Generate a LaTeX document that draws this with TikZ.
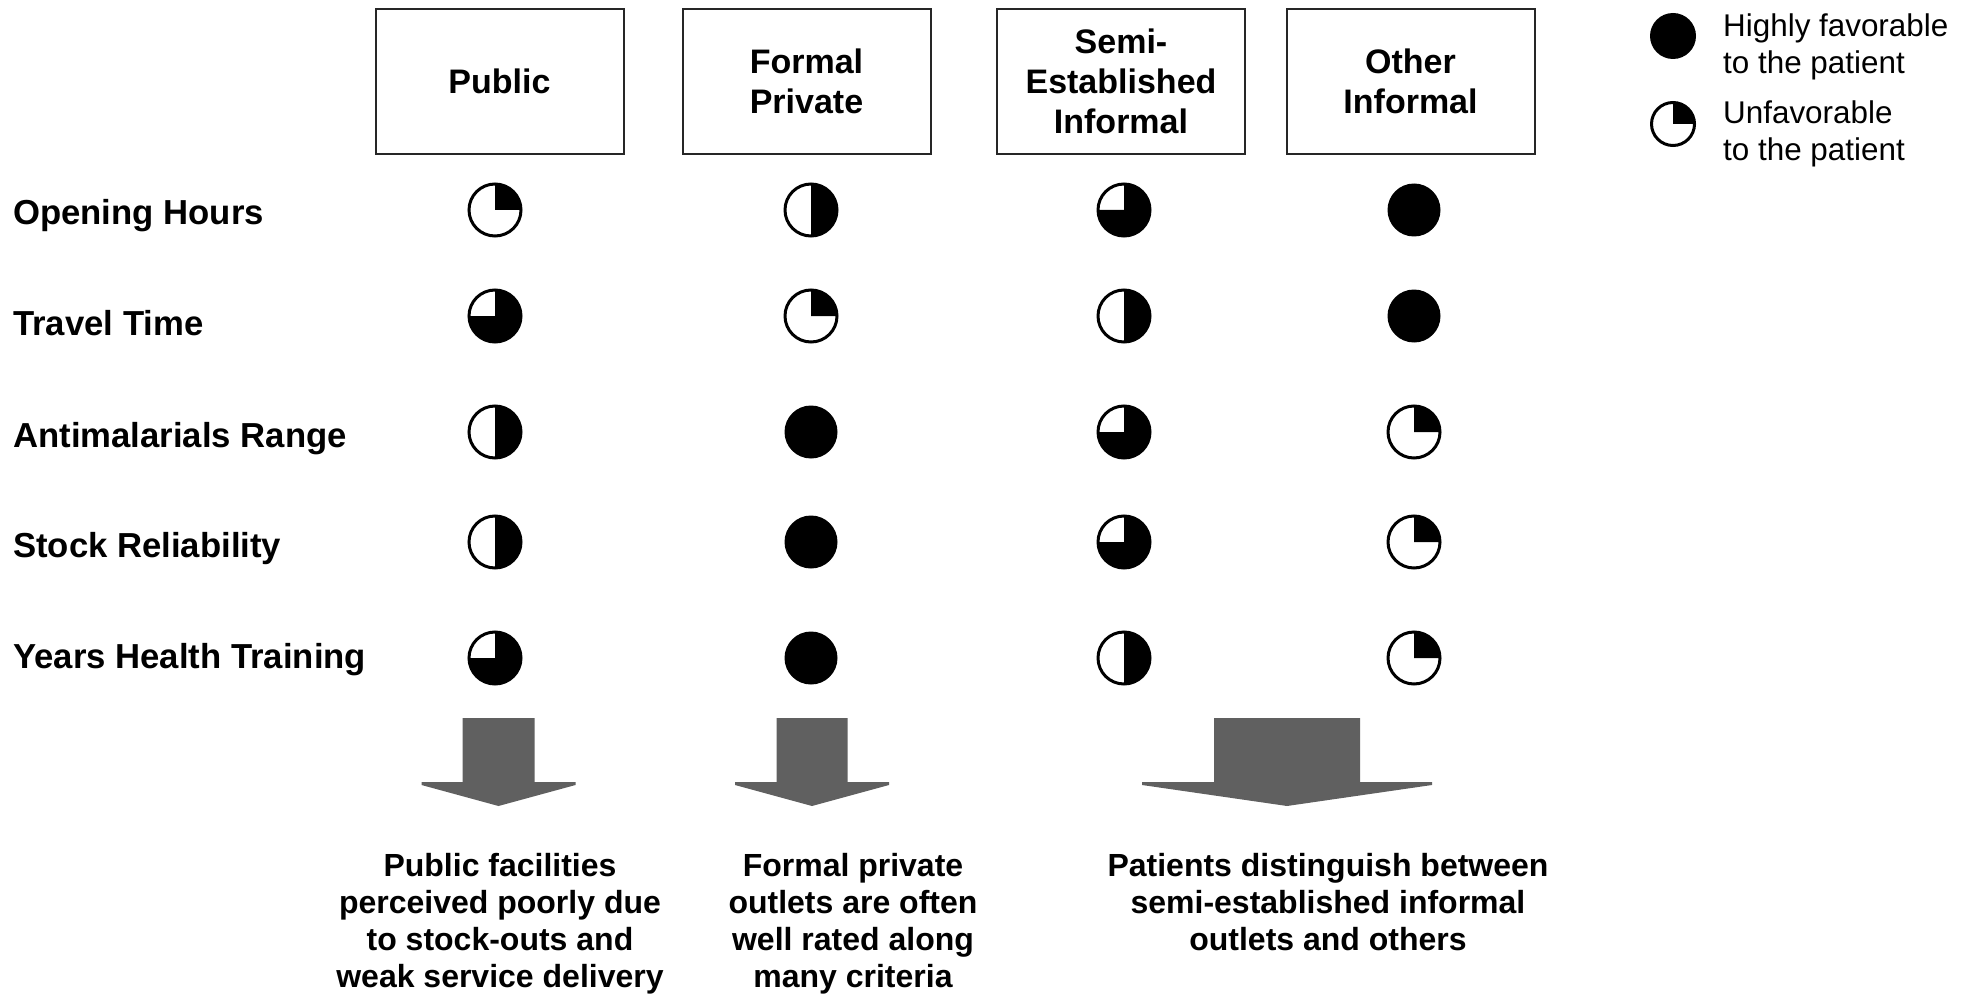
\documentclass[tikz,border=0pt]{standalone}
\usepackage{fontspec}
\setmainfont{Liberation Sans}
\definecolor{arrowgray}{RGB}{96,96,96}
% block arrow pointing down: centre x, shaft half width, wing half width
\newcommand{\downblock}[3]{%
  \fill[arrowgray] (#1-#2,-718) -- (#1+#2,-718) -- (#1+#2,-782) -- (#1+#3,-782)
    -- (#1+#3,-785) -- (#1,-806) -- (#1-#3,-785) -- (#1-#3,-782) -- (#1-#2,-782) -- cycle;}
\begin{document}
\begin{tikzpicture}[x=1pt,y=1pt,
  hdr/.style={draw=black!85, line width=2pt, minimum width=248pt, minimum height=145pt,
    inner sep=0pt, align=center, font=\bfseries\fontsize{34}{40}\selectfont},
  rowlabel/.style={anchor=base west, inner sep=0pt, font=\bfseries\fontsize{34.7}{40}\selectfont},
  ball/.style={circle, draw=black, line width=3pt, fill=white, minimum size=52pt, inner sep=0pt,
    path picture={\fill[black] (path picture bounding box.center) -- ++(0,40pt)
      arc[start angle=90, delta angle=-#1, radius=40pt] -- cycle;}},
  fullball/.style={circle, fill=black, minimum size=53pt, inner sep=0pt},
  legendtext/.style={anchor=north west, inner sep=0pt, align=left, font=\fontsize{31.4}{37}\selectfont},
  outcome/.style={anchor=north, inner sep=0pt, align=center, font=\bfseries\fontsize{32}{37}\selectfont}
]
\useasboundingbox (0,0) rectangle (1965,-995);

% column headers
\node[hdr] (hpub) at (499.5,-81.5) {Public};
\node[hdr] (hfor) at (806.5,-81.5) {Formal\\Private};
\node[hdr] (hsemi) at (1121,-81.5) {Semi-\\Established\\Informal};
\node[hdr] (hoth) at (1410.5,-81.5) {Other\\Informal};

% legend
\node[fullball, minimum size=46pt] (lfull) at (1673,-36) {};
\node[legendtext] (lfulltxt) at (1723,-13.5) {Highly favorable\\to the patient};
\node[ball=90, minimum size=43pt] (lquar) at (1673,-124) {};
\node[legendtext] (lquartxt) at (1723,-101) {Unfavorable\\to the patient};

% row labels
\node[rowlabel] (r1) at (13,-225) {Opening Hours};
\node[rowlabel] (r2) at (13,-335) {Travel Time};
\node[rowlabel] (r3) at (13,-447) {Antimalarials Range};
\node[rowlabel] (r4) at (13,-557) {Stock Reliability};
\node[rowlabel] (r5) at (13,-668) {Years Health Training};

% ratings: Public, Formal Private, Semi-Established Informal, Other Informal
\node[ball=90]  (b11) at (495,-210) {};
\node[ball=180] (b12) at (811,-210) {};
\node[ball=270] (b13) at (1124,-210) {};
\node[fullball] (b14) at (1414,-210) {};

\node[ball=270] (b21) at (495,-316) {};
\node[ball=90]  (b22) at (811,-316) {};
\node[ball=180] (b23) at (1124,-316) {};
\node[fullball] (b24) at (1414,-316) {};

\node[ball=180] (b31) at (495,-432) {};
\node[fullball] (b32) at (811,-432) {};
\node[ball=270] (b33) at (1124,-432) {};
\node[ball=90]  (b34) at (1414,-432) {};

\node[ball=180] (b41) at (495,-542) {};
\node[fullball] (b42) at (811,-542) {};
\node[ball=270] (b43) at (1124,-542) {};
\node[ball=90]  (b44) at (1414,-542) {};

\node[ball=270] (b51) at (495,-658) {};
\node[fullball] (b52) at (811,-658) {};
\node[ball=180] (b53) at (1124,-658) {};
\node[ball=90]  (b54) at (1414,-658) {};

% summary arrows
\downblock{498.5}{36}{77}
\downblock{812}{35.5}{77}
\downblock{1287}{73}{145}

% conclusions
\node[outcome] (c1) at (500,-853) {Public facilities\\perceived poorly due\\to stock-outs and\\weak service delivery};
\node[outcome] (c2) at (853,-853) {Formal private\\outlets are often\\well rated along\\many criteria};
\node[outcome] (c3) at (1328,-853) {Patients distinguish between\\semi-established informal\\outlets and others};
\end{tikzpicture}
\end{document}
